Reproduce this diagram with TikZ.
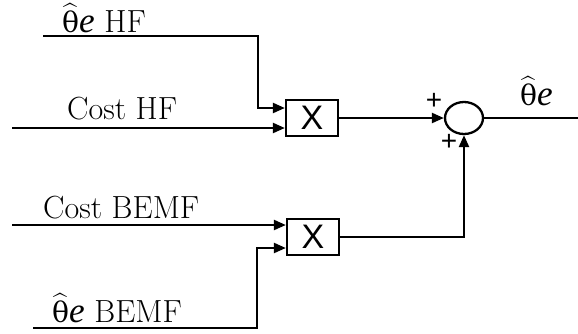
\documentclass[tikz,border=0pt]{standalone}
\usepackage{exscale}
\usepackage{fontspec}
\usetikzlibrary{arrows.meta,shapes.geometric}
\newfontfamily\dv[Scale=0.88]{DejaVu Serif}
\newfontfamily\lse[Scale=1.1]{Liberation Serif}
\newfontfamily\ls{Liberation Sans}
\newcommand{\thhat}{$\widehat{\hbox{\dv θ}}$\hbox{\lse\itshape e}}
\tikzset{
  wire/.style={line width=2.3pt},
  arr/.style={wire,-{Triangle[length=12pt,width=10pt]}},
  blk/.style={draw,line width=2.3pt,rectangle,minimum width=52pt,minimum height=36pt,inner sep=0pt,font=\fontsize{34}{40}\selectfont\ls},
  sumnode/.style={draw,line width=2.3pt,ellipse,minimum width=38pt,minimum height=32pt,inner sep=0pt},
  lbl/.style={anchor=base west,inner sep=0pt,font=\fontsize{32}{38}\selectfont},
  sgn/.style={inner sep=0pt,font=\fontsize{28}{32}\selectfont\ls}
}
\begin{document}
\begin{tikzpicture}[x=1pt,y=-1pt]
\useasboundingbox (0,0) rectangle (578,333);
% blocks
\node[blk] (m1) at (312,118) {X};
\node[blk] (m2) at (313,237) {X};
\node[sumnode] (s) at (464,118) {};
% coordinates
\coordinate (hfin) at (43,36);
\coordinate (hfc) at (258,108);
\coordinate (chfin) at (12,128);
\coordinate (cbin) at (12,225);
\coordinate (bin) at (33,328);
\coordinate (bc) at (257,248);
\coordinate (out) at (578,118);
% wires
\draw[arr] (hfin) -| (hfc) -- (hfc -| m1.west);
\draw[arr] (chfin) -- (chfin -| m1.west);
\draw[arr] (cbin) -- (cbin -| m2.west);
\draw[arr] (bin) -| (bc) -- (bc -| m2.west);
\draw[arr] (m1.east) -- (s.west);
\draw[arr] (m2.east) -| (s.south);
\draw[wire] (s.east) -- (out);
% labels
\node[lbl] (l1) at (62,32) {\thhat{} HF};
\node[lbl] (l2) at (67,119) {Cost HF};
\node[lbl] (l3) at (43,218) {Cost BEMF};
\node[lbl] (l4) at (52,322) {\thhat{} BEMF};
\node[lbl] (l5) at (520,105) {\thhat};
\node[sgn] (p1) at (434,101) {+};
\node[sgn] (p2) at (449,142) {+};
\end{tikzpicture}
\end{document}
